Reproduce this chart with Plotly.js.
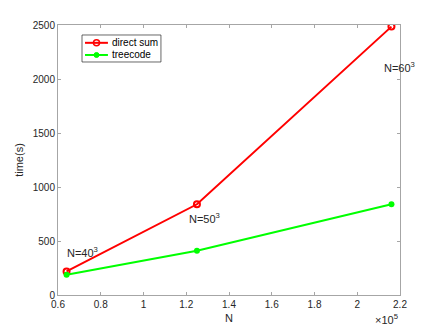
<!DOCTYPE html>
<html>
<head>
<meta charset="utf-8">
<script src="https://cdn.plot.ly/plotly-3.0.1.min.js"></script>
<style>
  html, body { margin: 0; padding: 0; background: #fff; }
  #chart { width: 443px; height: 332px; }
</style>
</head>
<body>
<div id="chart"></div>
<script>
// problem sizes N = 40^3, 50^3, 60^3
var N = [64000, 125000, 216000];
var directSum = [218, 840, 2485];
var treecode = [188, 410, 840];
var sizeLabels = ['N=40<sup>3</sup>', 'N=50<sup>3</sup>', 'N=60<sup>3</sup>'];
var seriesNames = ['direct sum', 'treecode'];
var seriesColors = ['#ff0000', '#00ff00'];
var xTicks = [60000, 80000, 100000, 120000, 140000, 160000, 180000, 200000, 220000];
var xTickText = ['0.6', '0.8', '1', '1.2', '1.4', '1.6', '1.8', '2', '2.2'];
var yTicks = [0, 500, 1000, 1500, 2000, 2500];

var font = 'Liberation Sans, Arial, sans-serif';
var axisGray = '#a6a6a6';
var textColor = '#262626';

var traces = [{
    x: N,
    y: directSum,
    name: seriesNames[0],
    type: 'scatter',
    mode: 'lines+markers',
    line: { color: seriesColors[0], width: 2 },
    marker: { symbol: 'circle-open', size: 6, color: seriesColors[0], line: { width: 2 } }
}, {
    x: N,
    y: treecode,
    name: seriesNames[1],
    type: 'scatter',
    mode: 'lines+markers',
    line: { color: seriesColors[1], width: 2 },
    marker: { symbol: 'circle', size: 6, color: seriesColors[1] }
}];

// label offsets relative to each direct-sum point (pixels)
var shifts = [[-2, 19], [-10, -14], [-9, -40]];
var annotations = sizeLabels.map(function(t, i) {
    return {
        x: N[i], y: directSum[i], xref: 'x', yref: 'y',
        text: t, showarrow: false,
        xanchor: 'left', yanchor: 'middle',
        xshift: shifts[i][0], yshift: shifts[i][1],
        font: { family: font, size: 11, color: textColor }
    };
});
annotations.push({
    x: 1, y: -0.122, xref: 'paper', yref: 'paper',
    text: '×10<sup>5</sup>', showarrow: false,
    xanchor: 'right', yanchor: 'bottom',
    font: { family: font, size: 11, color: textColor }
});

// compact MATLAB-style legend box
var shapes = [{
    type: 'rect', xref: 'paper', yref: 'paper',
    x0: 0.0702, x1: 0.301, y0: 0.863, y1: 0.963,
    line: { color: '#262626', width: 0.7 }, fillcolor: '#fff', layer: 'above'
}];
var rowY = [0.934, 0.889];
seriesNames.forEach(function(name, i) {
    shapes.push({
        type: 'line', xref: 'paper', yref: 'paper',
        x0: 0.079, x1: 0.146, y0: rowY[i], y1: rowY[i],
        line: { color: seriesColors[i], width: 2 }, layer: 'above'
    });
    var r = i === 0 ? 3 : 2.5;
    shapes.push({
        type: 'circle', xref: 'paper', yref: 'paper',
        xsizemode: 'pixel', ysizemode: 'pixel',
        xanchor: 0.1126, yanchor: rowY[i],
        x0: -r, x1: r, y0: -r, y1: r,
        line: { color: seriesColors[i], width: i === 0 ? 1.5 : 1 },
        fillcolor: i === 0 ? 'rgba(0,0,0,0)' : seriesColors[i],
        layer: 'above'
    });
    annotations.push({
        x: 0.153, y: rowY[i], xref: 'paper', yref: 'paper',
        text: name, showarrow: false,
        xanchor: 'left', yanchor: 'middle',
        font: { family: font, size: 10, color: '#000' }
    });
});

var layout = {
    width: 443,
    height: 332,
    margin: { l: 58, r: 43, t: 25, b: 37 },
    paper_bgcolor: '#fff',
    plot_bgcolor: '#fff',
    showlegend: false,
    xaxis: {
        range: [60000, 220000],
        tickvals: xTicks,
        ticktext: xTickText,
        ticks: 'inside', ticklen: 3, tickcolor: axisGray,
        showline: true, linecolor: axisGray, linewidth: 1, mirror: 'ticks',
        showgrid: false, zeroline: false,
        tickfont: { family: font, size: 10, color: textColor },
        title: { text: 'N', font: { family: font, size: 11, color: textColor }, standoff: 5 }
    },
    yaxis: {
        range: [0, 2500],
        tickvals: yTicks,
        ticks: 'inside', ticklen: 3, tickcolor: axisGray,
        showline: true, linecolor: axisGray, linewidth: 1, mirror: 'ticks',
        showgrid: false, zeroline: false,
        tickfont: { family: font, size: 10, color: textColor },
        title: { text: 'time(s)', font: { family: font, size: 11, color: textColor }, standoff: 6 }
    },
    shapes: shapes,
    annotations: annotations
};

Plotly.newPlot('chart', traces, layout, { displayModeBar: false, staticPlot: true });
</script>
</body>
</html>
